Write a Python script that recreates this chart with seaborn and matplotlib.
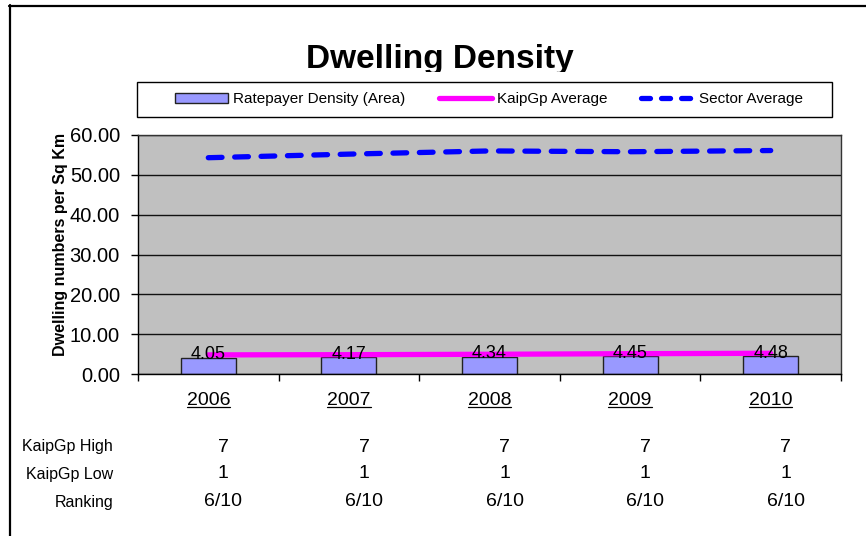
import numpy as np
import seaborn as sns
import matplotlib.pyplot as plt
from matplotlib.patches import Patch, Rectangle
from matplotlib.lines import Line2D
from matplotlib.transforms import Bbox, blended_transform_factory

years = ["2006", "2007", "2008", "2009", "2010"]
ratepayer_density = [4.05, 4.17, 4.34, 4.45, 4.48]
kaipgp_average = [4.8, 4.85, 4.95, 5.1, 5.2]
sector_average = [54.3, 55.2, 56.0, 55.8, 56.1]
kaipgp_high = ["7", "7", "7", "7", "7"]
kaipgp_low = ["1", "1", "1", "1", "1"]
ranking = ["6/10", "6/10", "6/10", "6/10", "6/10"]
row_names = ["KaipGp High", "KaipGp Low", "Ranking"]

sns.set_style("white")
plt.rcParams["font.family"] = ["Liberation Sans", "DejaVu Sans"]
plt.rcParams["text.color"] = "black"
plt.rcParams["axes.labelcolor"] = "black"
plt.rcParams["xtick.color"] = "black"
plt.rcParams["ytick.color"] = "black"

W, H = 866, 536
fig = plt.figure(figsize=(W / 100, H / 100), dpi=100)
ax = fig.add_axes([138 / W, 1 - 374 / H, 703 / W, 239 / H])
ax.set_facecolor("#C0C0C0")

sns.barplot(x=years, y=ratepayer_density, ax=ax, color="#9999FF", saturation=1,
            width=0.39, edgecolor="#222222", linewidth=1, zorder=2)
pos = np.arange(len(years))
sns.lineplot(x=pos, y=kaipgp_average, ax=ax, color="#FF00FF", linewidth=3.8,
             zorder=3)
sns.lineplot(x=pos, y=sector_average, ax=ax, color="#0000FF", linewidth=3.8,
             linestyle=(0, (2.6, 2.4)), zorder=3)
ax.lines[-1].set_dash_capstyle("round")

ax.bar_label(ax.containers[0], labels=[f"{v:.2f}" for v in ratepayer_density],
             padding=-4, fontsize=13, color="black", zorder=5)

ax.set_xlim(-0.5, 4.5)
ax.set_ylim(0, 60)
ax.set_yticks(np.arange(0, 61, 10))
ax.set_yticklabels([f"{v:.2f}" for v in np.arange(0, 61, 10)])
ax.set_xticks(pos)
ax.set_xticklabels(years)
ax.set_xticks(np.arange(-0.5, 4.6, 1), minor=True)
ax.tick_params(axis="x", which="major", length=0, pad=13, labelsize=14)
ax.tick_params(axis="x", which="minor", length=5, width=1, color="black",
               direction="out", bottom=True)
ax.tick_params(axis="y", length=5, width=1, color="black", direction="out",
               left=True, pad=8, labelsize=14.5)
ax.yaxis.grid(True, color="#111111", linewidth=1)
ax.set_axisbelow(True)
for s in ["top", "right"]:
    ax.spines[s].set_color("#333333")
for s in ["left", "bottom"]:
    ax.spines[s].set_color("black")
for s in ax.spines.values():
    s.set_linewidth(1)
ax.set_xlabel("")
ax.set_ylabel("Dwelling numbers per Sq Km", fontsize=11.5, fontweight="bold",
              va="center")
ax.yaxis.set_label_coords((61 - 138) / 703, (374 - 244) / 239)

# title, clipped at the bottom like the original
t = fig.text(440 / W, 1 - 68 / H, "Dwelling Density", ha="center",
             va="baseline", fontsize=24, fontweight="bold")
t.set_clip_box(Bbox([[0, H - 72], [W, H]]))
t.set_clip_on(True)

# legend box
fig.patches.append(Rectangle((137 / W, 1 - 117 / H), 695 / W, 35 / H,
                             transform=fig.transFigure, facecolor="white",
                             edgecolor="black", linewidth=1))
handles = [
    Patch(facecolor="#9999FF", edgecolor="#222222", linewidth=1),
    Line2D([], [], color="#FF00FF", linewidth=3.8),
    Line2D([], [], color="#0000FF", linewidth=3.8, linestyle=(0, (1.7, 2.1)),
           dash_capstyle="round"),
]
fig.legend(handles, ["Ratepayer Density (Area)", "KaipGp Average", "Sector Average"],
           loc="center", bbox_to_anchor=(489 / W, 1 - 99.5 / H), ncol=3,
           frameon=False, fontsize=11, handlelength=3.5, handleheight=0.6,
           handletextpad=0.3, columnspacing=2.2)

# data table below the chart
tr = blended_transform_factory(ax.transData, fig.transFigure)
row_y = [447, 474, 502]
for name, vals, y in zip(row_names, [kaipgp_high, kaipgp_low, ranking], row_y):
    fig.text(113 / W, 1 - y / H, name, ha="right", va="center", fontsize=11.5)
    for i, v in enumerate(vals):
        ax.text(i + 0.107, 1 - y / H, v, transform=tr, ha="center",
                va="center", fontsize=14, clip_on=False)

# outer frame lines
fig.add_artist(Line2D([9 / W, 1], [1 - 6 / H, 1 - 6 / H], color="black",
                      linewidth=1.6, transform=fig.transFigure))
fig.add_artist(Line2D([10 / W, 10 / W], [0, 1 - 5 / H], color="black",
                      linewidth=1.6, transform=fig.transFigure))

# underline the year labels
fig.canvas.draw()
r = fig.canvas.get_renderer()
for lab in ax.get_xticklabels():
    bb = lab.get_window_extent(r)
    yy = (bb.y0 + 2.5) / H
    fig.add_artist(Line2D([bb.x0 / W, bb.x1 / W], [yy, yy], color="black",
                          linewidth=0.9, transform=fig.transFigure))

fig.savefig("out.png", dpi=100)
